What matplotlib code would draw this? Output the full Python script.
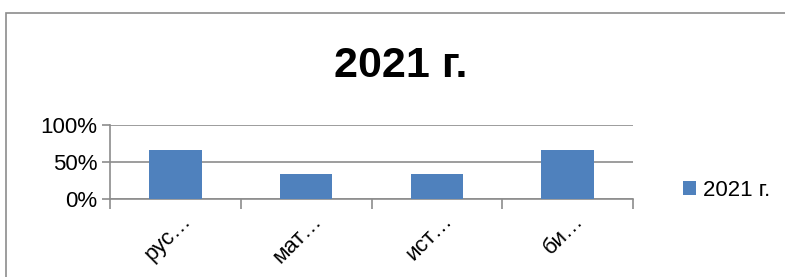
import matplotlib.pyplot as plt
import matplotlib.transforms as mtransforms
from matplotlib.patches import Rectangle

plt.rcParams['font.family'] = ['Liberation Sans', 'DejaVu Sans']

categories = ["рус…", "мат…", "ист…", "би…"]
values = [0.667, 0.333, 0.333, 0.667]
series_name = "2021 г."
yticks = [0, 0.5, 1.0]
ytick_labels = ["0%", "50%", "100%"]

W, H = 785, 277
fig = plt.figure(figsize=(W / 100, H / 100), dpi=100)

# outer chart frame (right and bottom edges are cut off in the source)
fig.patches.append(Rectangle((6 / W, -0.1), 1.1, 1.1 - 13 / H, transform=fig.transFigure,
                             fill=False, edgecolor="#8c8c8c", linewidth=1.2))

ax = fig.add_axes([110 / W, 1 - 199 / H, (633 - 110) / W, (199 - 125) / H])

x = range(len(categories))
ax.bar(x, values, width=0.4, color="#4F81BD", label=series_name, zorder=3)

ax.set_xlim(-0.5, len(categories) - 0.5)
ax.set_ylim(0, 1.0)
ax.set_yticks(yticks)
ax.set_yticklabels(ytick_labels, fontsize=16)
ax.yaxis.grid(True, color="#8c8c8c", linewidth=1.2, zorder=0)
ax.tick_params(axis="y", length=6, color="#8c8c8c", width=1.2, pad=3)

ax.set_xticks(list(x))
ax.set_xticklabels(categories, fontsize=16, rotation=45, ha="right", va="top")
ax.set_xticks([i - 0.5 for i in range(len(categories) + 1)], minor=True)
ax.tick_params(axis="x", which="major", length=0, pad=8)
ax.tick_params(axis="x", which="minor", length=7, color="#8c8c8c", width=1.2)
offset = mtransforms.ScaledTranslation(20 / 100, 0, fig.dpi_scale_trans)
for lbl in ax.get_xticklabels():
    lbl.set_transform(lbl.get_transform() + offset)

for side in ["top", "right"]:
    ax.spines[side].set_visible(False)
for side in ["left", "bottom"]:
    ax.spines[side].set_color("#8c8c8c")
    ax.spines[side].set_linewidth(1.2)

fig.text(401 / W, 1 - 66 / H, "2021 г.", fontsize=31, fontweight="bold",
         ha="center", va="center")

fig.legend(loc="center left", bbox_to_anchor=(674 / W, 1 - 190 / H), frameon=False,
           fontsize=16, handlelength=0.6, handleheight=0.6, handletextpad=0.3,
           borderaxespad=0)

fig.savefig("out.png", dpi=100)
